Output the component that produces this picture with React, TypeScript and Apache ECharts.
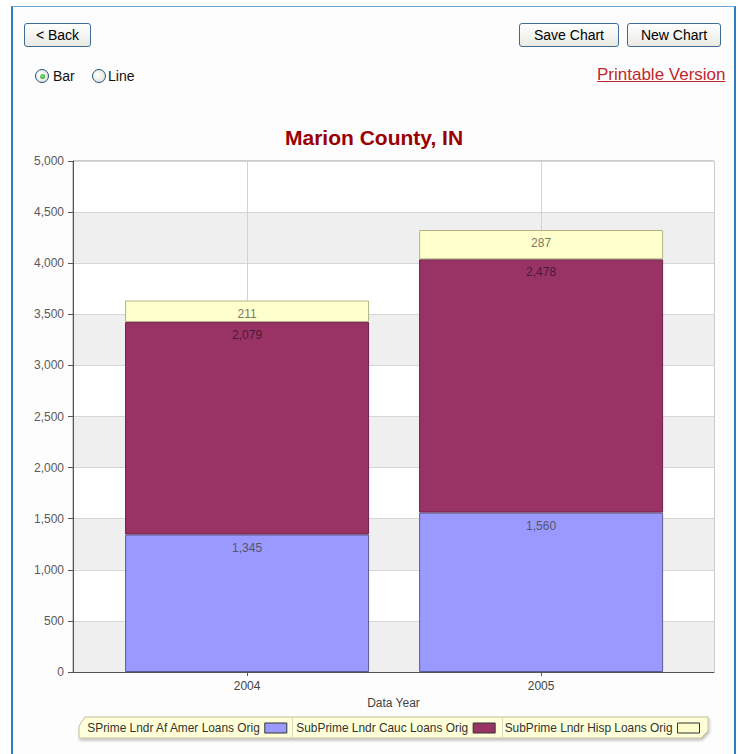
import React, { useEffect, useRef } from 'react';
import * as echarts from 'echarts';

const years = ['2004', '2005'];
const yearPos = [0, 1];
const seriesNames = [
  'SPrime Lndr Af Amer Loans Orig',
  'SubPrime Lndr Cauc Loans Orig',
  'SubPrime Lndr Hisp Loans Orig',
];
const afAmerLoans = [1345, 1560];
const caucLoans = [2079, 2478];
const hispLoans = [211, 287];
const seriesValues = [afAmerLoans, caucLoans, hispLoans];
const seriesColors = ['#9999FF', '#993366', '#FFFFCC'];
const seriesBorders = ['#5c5c99', '#6e2048', '#b4b48a'];
const labelColors = ['#55556a', '#4a1a33', '#7a7a68'];
const chartTitle = 'Marion County, IN';
const xAxisName = 'Data Year';

const FONT = 'Arial, "Liberation Sans", sans-serif';
const fmt = (v: number) => v.toLocaleString('en-US');

export default function App() {
  const ref = useRef<HTMLDivElement>(null);

  useEffect(() => {
    if (!ref.current) return;
    const chart = echarts.init(ref.current, undefined, { renderer: 'svg' });
    const option: any = {
      animation: false,
      textStyle: { fontFamily: FONT },
      title: {
        text: chartTitle,
        left: 285,
        top: 127,
        padding: 0,
        textStyle: { color: '#990000', fontSize: 21, fontWeight: 'bold', fontFamily: FONT },
      },
      grid: {
        left: 73,
        top: 161,
        width: 641,
        height: 511,
        show: true,
        borderColor: '#9a9a9a',
        borderWidth: 1,
        backgroundColor: '#ffffff',
      },
      xAxis: {
        type: 'value',
        min: -0.592,
        max: 1.588,
        axisLine: { show: true, onZero: false, lineStyle: { color: '#555' } },
        axisTick: { show: true, customValues: yearPos, length: 4, lineStyle: { color: '#555' } },
        axisLabel: {
          customValues: yearPos,
          formatter: (v: number) => years[Math.round(v)] ?? '',
          fontSize: 12,
          color: '#444',
          margin: 8,
          fontFamily: FONT,
        },
        splitLine: { show: true, lineStyle: { color: '#d2d2d2' } },
        name: xAxisName,
        nameLocation: 'middle',
        nameGap: 19,
        nameTextStyle: { fontSize: 12, color: '#444', fontFamily: FONT },
      },
      yAxis: {
        type: 'value',
        min: 0,
        max: 5000,
        interval: 500,
        axisLine: { show: true, onZero: false, lineStyle: { color: '#555' } },
        axisTick: { show: true, length: 5, lineStyle: { color: '#555' } },
        axisLabel: {
          formatter: (v: number) => fmt(v),
          fontSize: 12,
          color: '#5a5a5a',
          margin: 9,
          fontFamily: FONT,
        },
        splitLine: { show: true, lineStyle: { color: '#d6d6d6' } },
        splitArea: { show: true, areaStyle: { color: ['#efefef', '#ffffff'] } },
      },
      legend: {
        left: 86,
        top: 722,
        padding: 0,
        itemGap: 9,
        itemWidth: 22,
        itemHeight: 10,
        align: 'right',
        icon: 'rect',
        z: 10,
        textStyle: { fontSize: 11.9, color: '#333', fontFamily: FONT },
        itemStyle: { borderColor: '#333', borderWidth: 1 },
        data: seriesNames,
      },
      graphic: [
        {
          type: 'polygon',
          z: 0,
          shape: {
            points: [
              [85, 717],
              [708, 717],
              [708, 731],
              [701, 738],
              [79, 738],
              [79, 726],
            ],
          },
          style: {
            fill: '#ffffd9',
            stroke: '#c2c29c',
            lineWidth: 1,
            shadowBlur: 3,
            shadowOffsetX: 1,
            shadowOffsetY: 2,
            shadowColor: 'rgba(0,0,0,0.25)',
          },
        },
        { type: 'line', z: 1, shape: { x1: 292.5, y1: 718, x2: 292.5, y2: 737 }, style: { stroke: '#d9d9bb', lineWidth: 1 } },
        { type: 'line', z: 1, shape: { x1: 502.5, y1: 718, x2: 502.5, y2: 737 }, style: { stroke: '#d9d9bb', lineWidth: 1 } },
      ],
      series: seriesNames.map((name, si) => ({
        name,
        type: 'bar',
        stack: 'total',
        barWidth: 244,
        encode: { x: 1, y: 0 },
        data: seriesValues[si].map((v, i) => [v, yearPos[i]]),
        itemStyle: { color: seriesColors[si], borderColor: seriesBorders[si], borderWidth: 1 },
        label: {
          show: true,
          position: 'insideTop',
          distance: 7,
          fontSize: 12,
          color: labelColors[si],
          fontFamily: FONT,
          formatter: (p: any) => fmt(p.value[0]),
        },
      })),
    };
    chart.setOption(option);
    return () => chart.dispose();
  }, []);

  const btn: React.CSSProperties = {
    position: 'absolute',
    top: 23,
    height: 24,
    border: '1px solid #3f6b98',
    borderRadius: 3,
    background: 'linear-gradient(#ffffff, #eae9e3)',
    fontFamily: FONT,
    fontSize: 14,
    color: '#000',
    padding: 0,
    boxSizing: 'border-box',
    display: 'flex',
    alignItems: 'center',
    justifyContent: 'center',
  };
  const radio: React.CSSProperties = {
    position: 'absolute',
    top: 69,
    width: 14,
    height: 14,
    boxSizing: 'border-box',
    borderRadius: '50%',
    border: '1px solid #1d5281',
    background: 'radial-gradient(circle at 40% 40%, #ffffff, #dcdcd4)',
  };
  const lbl: React.CSSProperties = {
    position: 'absolute',
    top: 68,
    fontFamily: FONT,
    fontSize: 14,
    lineHeight: '16px',
    color: '#111',
  };

  return (
    <div style={{ position: 'absolute', left: 0, top: 0, width: 738, height: 754, overflow: 'hidden', background: '#fff' }}>
      <div
        style={{
          position: 'absolute',
          left: 11,
          top: 6,
          width: 725,
          height: 800,
          boxSizing: 'border-box',
          border: '2px solid #2f7dbd',
          borderTop: '1px solid #6fa6d4',
          background: '#fdfdfd',
        }}
      />
      <div ref={ref} style={{ position: 'absolute', left: 0, top: 0, width: 738, height: 754 }} />
      <div style={{ ...btn, left: 24, width: 67 }}>&lt; Back</div>
      <div style={{ ...btn, left: 519, width: 100 }}>Save Chart</div>
      <div style={{ ...btn, left: 627, width: 94 }}>New Chart</div>
      <div style={{ ...radio, left: 35 }}>
        <div
          style={{
            position: 'absolute',
            left: 3.5,
            top: 3.5,
            width: 5,
            height: 5,
            borderRadius: '50%',
            background: 'radial-gradient(circle at 40% 40%, #7fe07f, #21992a)',
          }}
        />
      </div>
      <div style={{ ...lbl, left: 53 }}>Bar</div>
      <div style={{ ...radio, left: 92 }} />
      <div style={{ ...lbl, left: 108 }}>Line</div>
      <div
        style={{
          position: 'absolute',
          left: 597,
          top: 65,
          fontFamily: FONT,
          fontSize: 17,
          lineHeight: '20px',
          color: '#c0282e',
          textDecoration: 'underline',
        }}
      >
        Printable Version
      </div>
    </div>
  );
}
